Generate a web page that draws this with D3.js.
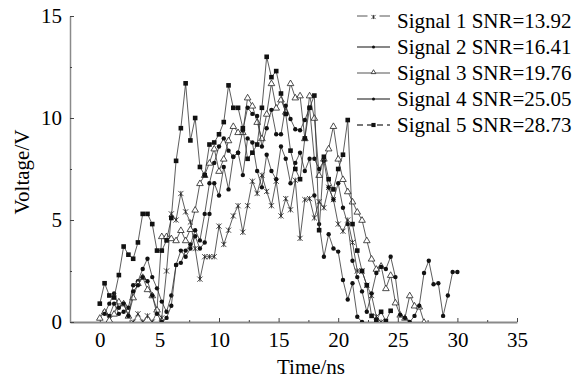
<!DOCTYPE html>
<html>
<head>
<meta charset="utf-8">
<script src="https://cdn.jsdelivr.net/npm/d3@7"></script>
<style>
  body { margin: 0; background: #fff; }
  svg { display: block; font-family: 'Liberation Serif', 'Times New Roman', serif; }
</style>
</head>
<body>
<svg width="574" height="379"></svg>
<script>
// sample times (ns)
const times = [0,0.4,0.8,1.2,1.6,2,2.4,2.8,3.2,3.6,4,4.4,4.8,5.2,5.6,6,6.4,6.8,7.2,7.6,
  8,8.4,8.8,9.2,9.6,10,10.4,10.8,11.2,11.6,12,12.4,12.8,13.2,13.6,14,14.4,14.8,15.2,15.6,
  16,16.4,16.8,17.2,17.6,18,18.4,18.8,19.2,19.6,20,20.4,20.8,21.2,21.6,22,22.4,22.8,23.2,23.6,
  24,24.4,24.8,25.2,25.6,26,26.4,26.8,27.2,27.6,28,28.4,28.8,29.2,29.6,30];

const signal1 = [null,null,null,null,null,null,null,0.0,0.4,0.0,0.3,0.0,0.5,0.2,2.5,5.3,5.0,6.3,5.4,4.9,
  3.6,2.1,3.2,3.2,3.2,4.7,3.8,4.5,5.2,5.7,4.4,5.7,6.9,6.3,7.2,6.4,5.7,6.9,5.2,6.05,
  5.5,6.95,4.1,6.0,6.05,5.1,5.9,5.6,6.6,6.0,4.8,4.45,5.0,3.9,2.5,2.5,1.8,1.3,0.26,0.0];
const signal2 = [null,0.5,0.3,0.9,0.4,0.5,0.7,1.8,2.0,2.6,3.1,2.2,1.65,1.0,0.5,1.3,2.8,3.5,3.2,3.6,
  4.2,3.6,3.9,5.3,6.8,6.2,7.6,6.5,8.1,8.3,7.2,9.0,8.8,7.4,6.6,8.2,7.4,7.0,8.6,8.0,
  6.8,7.8,8.3,7.4,8.0,6.2,4.8,3.2,4.3,3.6,3.45,2.06,1.1,1.9,0.26,0.0];
const signal3 = [0.2,0.5,0.1,0.4,1.0,0.9,0.3,1.2,1.9,2.2,1.6,1.3,0.6,4.2,4.2,4.1,4.0,4.5,4.0,4.55,
  5.5,6.8,7.2,7.8,8.5,7.4,8.0,8.9,9.6,9.3,9.3,11.0,10.6,9.8,9.0,10.2,11.7,10.5,10.9,10.3,
  11.7,11.0,11.1,9.0,11.1,10.0,7.2,8.0,8.5,9.6,8.0,7.0,6.4,5.9,5.4,5.0,4.0,3.1,2.6,2.75,
  1.65,2.3,0.95,0.35,0.2,1.3,0.8,0.75,0.0];
const signal4 = [null,0.4,0.9,1.4,0.7,0.9,0.3,1.5,1.8,2.2,2.0,1.3,0.4,0.0,0.2,0.8,2.8,2.9,3.5,3.8,
  4.5,4.0,5.3,6.8,7.8,8.6,9.0,8.4,8.1,8.3,9.4,10.5,10.2,10.1,8.6,9.5,10.4,9.2,9.2,10.6,
  9.95,9.45,9.4,9.9,10.5,8.0,7.5,7.9,6.6,6.0,6.8,5.6,4.8,3.0,2.2,1.5,0.5,1.4,2.4,2.7,
  2.6,3.2,2.2,0.35,0.2,0.0,0.3,0.8,2.4,3.0,1.85,1.9,0.3,1.3,2.45,2.45];
const signal5 = [0.9,1.9,1.3,1.2,2.3,3.7,3.3,3.1,3.9,5.3,5.3,4.8,3.5,3.5,4.0,5.1,7.9,9.5,11.7,8.9,
  10.0,7.6,7.2,8.7,8.8,9.2,9.8,11.6,10.5,10.5,9.5,8.0,8.3,8.7,10.5,13.0,12.0,12.3,11.2,10.2,
  8.4,7.5,7.0,9.0,10.5,11.1,4.5,8.1,7.0,6.5,7.5,8.2,9.9,4.8,3.5,2.5,1.8,0.3,0.1,0.5,
  0.05,0.55];

const seriesNames = ['Signal 1 SNR=13.92', 'Signal 2 SNR=16.41', 'Signal 3 SNR=19.76',
  'Signal 4 SNR=25.05', 'Signal 5 SNR=28.73'];
const seriesValues = [signal1, signal2, signal3, signal4, signal5];
const markerTypes = ['star', 'dot', 'triangle', 'dot', 'square'];

const xTicks = [0, 5, 10, 15, 20, 25, 30, 35];
const xMinorTicks = [-2.5, 2.5, 7.5, 12.5, 17.5, 22.5, 27.5, 32.5];
const yTicks = [0, 5, 10, 15];
const yMinorTicks = [2.5, 7.5, 12.5];

const plotLeft = 70, plotRight = 517, plotTop = 16, plotBottom = 322;
const x = d3.scaleLinear([-2.5, 35], [plotLeft, plotRight]);
const y = d3.scaleLinear([0, 15], [plotBottom, plotTop]);

const svg = d3.select('svg');
const fontSize = 21;
const axisColor = '#8a8a8a';

svg.append('clipPath').attr('id', 'plot-clip')
  .append('rect')
  .attr('x', plotLeft).attr('y', plotTop - 6)
  .attr('width', plotRight - plotLeft).attr('height', plotBottom - plotTop + 6);

// axes
const xAxis = svg.append('g')
  .attr('transform', `translate(0, ${plotBottom})`)
  .call(d3.axisBottom(x).tickValues(xTicks).tickSizeInner(-4).tickSizeOuter(0).tickPadding(10));
xAxis.select('.domain').attr('stroke', axisColor).attr('stroke-width', 2);
xAxis.selectAll('.tick line').attr('stroke', '#444');
xAxis.selectAll('text')
  .attr('font-size', fontSize)
  .attr('font-family', 'Liberation Serif')
  .attr('fill', '#000');

svg.append('g')
  .attr('transform', `translate(0, ${plotBottom})`)
  .call(d3.axisBottom(x).tickValues(xMinorTicks).tickSizeInner(-2).tickSizeOuter(0).tickFormat(''))
  .call((g) => g.select('.domain').remove())
  .selectAll('.tick line').attr('stroke', '#444');

const yAxis = svg.append('g')
  .attr('transform', `translate(${plotLeft}, 0)`)
  .call(d3.axisLeft(y).tickValues(yTicks).tickSizeInner(-4).tickSizeOuter(0).tickPadding(8));
yAxis.select('.domain').attr('stroke', axisColor).attr('stroke-width', 1.5);
yAxis.selectAll('.tick line').attr('stroke', '#444');
yAxis.selectAll('text')
  .attr('font-size', fontSize)
  .attr('font-family', 'Liberation Serif')
  .attr('fill', '#000');

svg.append('g')
  .attr('transform', `translate(${plotLeft}, 0)`)
  .call(d3.axisLeft(y).tickValues(yMinorTicks).tickSizeInner(-2).tickSizeOuter(0).tickFormat(''))
  .call((g) => g.select('.domain').remove())
  .selectAll('.tick line').attr('stroke', '#444');

svg.append('text')
  .text('Time/ns')
  .attr('x', 311)
  .attr('y', 374)
  .attr('text-anchor', 'middle')
  .attr('font-size', fontSize);

svg.append('text')
  .text('Voltage/V')
  .attr('transform', 'translate(29, 172) rotate(-90)')
  .attr('text-anchor', 'middle')
  .attr('font-size', fontSize);

// markers
function drawMarker(g, type, px, py, scale) {
  const s = scale || 1;
  if (type === 'star') {
    const r = 2.6 * s;
    g.append('path')
      .attr('d', `M${px - r},${py - r}L${px + r},${py + r}M${px - r},${py + r}L${px + r},${py - r}M${px},${py - r}L${px},${py + r}`)
      .attr('stroke', '#222').attr('stroke-width', 0.8).attr('fill', 'none');
  } else if (type === 'dot') {
    g.append('circle').attr('cx', px).attr('cy', py).attr('r', 2.2 * s).attr('fill', '#111');
  } else if (type === 'triangle') {
    const r = 3.3 * s;
    g.append('path')
      .attr('d', `M${px},${py - r}L${px + r},${py + r * 0.7}L${px - r},${py + r * 0.7}Z`)
      .attr('stroke', '#222').attr('stroke-width', 0.8).attr('fill', '#fff');
  } else if (type === 'square') {
    const r = 2.3 * s;
    g.append('rect').attr('x', px - r).attr('y', py - r)
      .attr('width', 2 * r).attr('height', 2 * r).attr('fill', '#111');
  }
}

const line = d3.line()
  .x((d) => x(d.t))
  .y((d) => y(d.v));

const plot = svg.append('g').attr('clip-path', 'url(#plot-clip)');

seriesValues.forEach((values, k) => {
  const data = times.map((t, i) => ({ t, v: values[i] }))
    .filter((d) => d.v !== null && d.v !== undefined);
  const g = plot.append('g');
  g.append('path')
    .datum(data)
    .attr('d', line)
    .attr('fill', 'none')
    .attr('stroke', '#333')
    .attr('stroke-width', 0.8);
  data.forEach((d) => drawMarker(g, markerTypes[k], x(d.t), y(d.v)));
});

// legend
const legendX = 357, legendLen = 33, textX = 397;
seriesNames.forEach((name, k) => {
  const base = 28 + 26 * k;
  const ly = base - 7;
  const g = svg.append('g');
  const mx = legendX + legendLen / 2;
  if (k === 0) {
    g.append('line').attr('x1', legendX).attr('x2', mx - 6).attr('y1', ly - 5).attr('y2', ly - 5)
      .attr('stroke', '#555').attr('stroke-width', 1);
    g.append('line').attr('x1', mx + 6).attr('x2', legendX + legendLen).attr('y1', ly - 5).attr('y2', ly - 5)
      .attr('stroke', '#555').attr('stroke-width', 1);
    drawMarker(g, 'star', mx, ly - 4, 0.8);
  } else if (k === 4) {
    g.append('line').attr('x1', legendX).attr('x2', legendX + legendLen).attr('y1', ly).attr('y2', ly)
      .attr('stroke', '#777').attr('stroke-width', 2).attr('stroke-dasharray', '6,4');
    drawMarker(g, 'square', mx, ly, 0.9);
  } else {
    g.append('line').attr('x1', legendX).attr('x2', legendX + legendLen).attr('y1', ly).attr('y2', ly)
      .attr('stroke', k === 2 ? '#555' : '#111').attr('stroke-width', 1.2);
    if (k === 2) drawMarker(g, 'triangle', mx, ly - 1, 0.7);
    else g.append('circle').attr('cx', mx).attr('cy', ly).attr('r', 1.5).attr('fill', '#111');
  }
  g.append('text')
    .text(name)
    .attr('x', textX)
    .attr('y', base)
    .attr('font-size', fontSize)
    .attr('fill', '#000');
});
</script>
</body>
</html>
